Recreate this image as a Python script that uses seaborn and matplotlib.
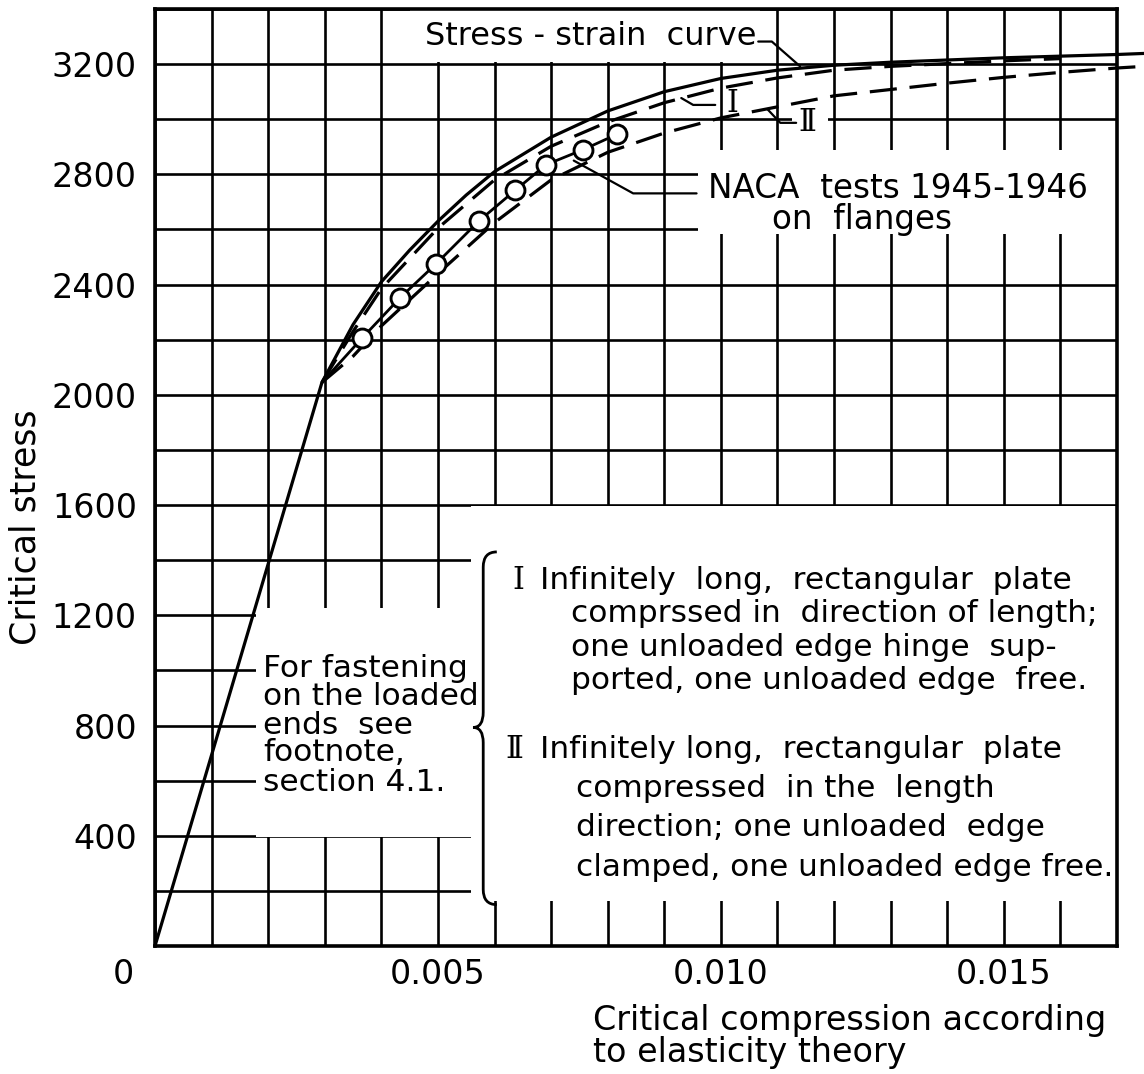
import matplotlib
matplotlib.use("Agg")
import matplotlib.pyplot as plt
from matplotlib.patches import Rectangle, PathPatch
from matplotlib.path import Path
from matplotlib.transforms import ScaledTranslation
import pandas as pd
import seaborn as sns

# Stress-strain curve: elastic line to the proportional limit, then the plastic branch
ss_strain = [0, 0.00295, 0.0035, 0.004, 0.0045, 0.005, 0.0055, 0.006, 0.007, 0.008,
             0.009, 0.010, 0.011, 0.012, 0.013, 0.014, 0.015, 0.016, 0.017, 0.0175]
ss_stress = [0, 2045, 2255, 2410, 2525, 2630, 2725, 2810, 2935, 3030,
             3100, 3148, 3178, 3196, 3207, 3215, 3223, 3229, 3235, 3239]

# Curve I: one unloaded edge hinge supported, one free
c1_strain = [0.00295, 0.0035, 0.004, 0.005, 0.006, 0.007, 0.008, 0.009, 0.010,
             0.011, 0.012, 0.013, 0.014, 0.015, 0.016]
c1_stress = [2045, 2230, 2385, 2605, 2780, 2902, 2990, 3060, 3113,
             3150, 3178, 3192, 3202, 3212, 3220]

# Curve II: one unloaded edge clamped, one free
c2_strain = [0.00295, 0.0035, 0.004, 0.005, 0.006, 0.007, 0.008, 0.009, 0.010,
             0.011, 0.012, 0.013, 0.014, 0.015, 0.016, 0.017, 0.0174]
c2_stress = [2045, 2140, 2250, 2440, 2625, 2780, 2880, 2950, 3005,
             3045, 3085, 3108, 3131, 3152, 3170, 3186, 3191]

# NACA tests 1945-1946 on flanges
test_strain = [0.00366, 0.00433, 0.00497, 0.00573, 0.00637, 0.00691, 0.00757, 0.00817]
test_stress = [2206, 2352, 2476, 2632, 2743, 2835, 2890, 2946]

x_ticks = [0, 0.005, 0.010, 0.015]
x_tick_labels = ["0", "0.005", "0.010", "0.015"]
y_ticks = [400, 800, 1200, 1600, 2000, 2400, 2800, 3200]
y_tick_labels = ["400", "800", "1200", "1600", "2000", "2400", "2800", "3200"]

sns.set_style("white")
plt.rcParams["font.family"] = ["DejaVu Sans"]

fig = plt.figure(figsize=(11.44, 10.74), dpi=100)
ax = fig.add_axes([0.1355, 0.1192, 0.8409, 0.8724])

ax.set_xlim(0, 0.017)
ax.set_ylim(0, 3400)
ax.set_xticks(x_ticks)
ax.set_xticklabels(x_tick_labels)
ax.set_xticks([i / 1000 for i in range(18)], minor=True)
ax.set_yticks(y_ticks)
ax.set_yticklabels(y_tick_labels)
ax.set_yticks(list(range(0, 3401, 200)), minor=True)
ax.tick_params(which="both", length=0, labelsize=24, colors="black")
ax.tick_params(axis="y", pad=13)
ax.tick_params(axis="x", pad=9)
ax.set_axisbelow(True)
ax.grid(which="both", color="black", linewidth=1.9)
for s in ax.spines.values():
    s.set_visible(True)
    s.set_color("black")
    s.set_linewidth(2.6)

# shift the origin label to the left of the corner
lbl0 = ax.get_xticklabels()[0]
lbl0.set_transform(lbl0.get_transform() + ScaledTranslation(-32 / 100, 0, fig.dpi_scale_trans))

# blank panels that carry the lettering
def blank(x0, x1, y0, y1):
    ax.add_patch(Rectangle((x0, y0), x1 - x0, y1 - y0, facecolor="white",
                           edgecolor="none", zorder=1))

blank(0.0045, 0.0107, 3206, 3400)      # stress-strain caption
blank(0.0096, 0.0170, 2585, 2890)      # NACA caption
blank(0.01125, 0.0119, 2950, 3030)     # label II
blank(0.00178, 0.0056, 395, 1225)      # fastening note
blank(0.00558, 0.0170, 165, 1597)      # case descriptions

# curves
df_ss = pd.DataFrame({"strain": ss_strain, "stress": ss_stress})
sns.lineplot(data=df_ss, x="strain", y="stress", ax=ax, color="black", linewidth=2.3,
             sort=False, estimator=None, clip_on=False, zorder=3)

df_1 = pd.DataFrame({"strain": c1_strain, "stress": c1_stress})
sns.lineplot(data=df_1, x="strain", y="stress", ax=ax, color="black", linewidth=2.3,
             sort=False, estimator=None, clip_on=False, zorder=3)
ax.lines[-1].set_dashes([8.5, 4])

df_2 = pd.DataFrame({"strain": c2_strain, "stress": c2_stress})
sns.lineplot(data=df_2, x="strain", y="stress", ax=ax, color="black", linewidth=2.3,
             sort=False, estimator=None, clip_on=False, zorder=3)
ax.lines[-1].set_dashes([8.5, 4])

# test points joined from the proportional limit
df_t = pd.DataFrame({"strain": [ss_strain[1]] + test_strain,
                     "stress": [ss_stress[1]] + test_stress})
sns.lineplot(data=df_t, x="strain", y="stress", ax=ax, color="black", linewidth=2.0,
             sort=False, estimator=None, zorder=3)
sns.scatterplot(x=test_strain, y=test_stress, ax=ax, s=185, facecolor="white",
                edgecolor="black", linewidth=2.1, zorder=4)

ax.set_xlabel("Critical compression according\nto elasticity theory", fontsize=24,
              ha="left", va="top", linespacing=0.95, color="black")
ax.xaxis.set_label_coords(0.455, -0.062)
ax.set_ylabel("Critical stress", fontsize=25, va="center", ha="center", color="black")
ax.yaxis.set_label_coords(-0.135, 0.447)

txt = dict(color="black", zorder=5)
roman = dict(color="black", zorder=5, family=["DejaVu Serif", "DejaVu Sans"])
lead = dict(color="black", linewidth=1.6, zorder=5, clip_on=False)

# stress-strain caption and leader
ax.text(0.00477, 3300, "Stress - strain  curve", fontsize=23, va="center", ha="left", **txt)
ax.plot([0.01066, 0.0109, 0.0114], [3282, 3282, 3192], **lead)

# curve labels
ax.text(0.0102, 3058, "\u2160", fontsize=22, va="center", ha="center", **roman)
ax.plot([0.0093, 0.00951, 0.0099], [3077, 3052, 3052], **lead)
ax.text(0.01152, 2987, "\u2161", fontsize=22, va="center", ha="center", **roman)
ax.plot([0.01082, 0.01105, 0.01133], [3037, 2987, 2987], **lead)

# NACA caption
ax.text(0.00977, 2747, "NACA  tests 1945-1946", fontsize=23.5, va="center", ha="left", **txt)
ax.text(0.0109, 2636, "on  flanges", fontsize=23.5, va="center", ha="left", **txt)
ax.plot([0.0074, 0.00845, 0.00957], [2850, 2731, 2731], **lead)

# fastening note
note_lines = ["For fastening", "on the loaded", "ends  see", "footnote,", "section 4.1."]
note_y = [1006, 905, 800, 702, 592]
for s, y in zip(note_lines, note_y):
    ax.text(0.00191, y, s, fontsize=22.5, va="center", ha="left", **txt)

# brace
def brace(x_tip, x_stem, x_end, y_bot, y_mid, y_top, ry):
    verts = [(x_end, y_top), (x_stem, y_top), (x_stem, y_top - ry),
             (x_stem, y_mid + ry), (x_stem, y_mid), (x_tip, y_mid),
             (x_stem, y_mid), (x_stem, y_mid - ry), (x_stem, y_bot + ry),
             (x_stem, y_bot), (x_end, y_bot)]
    codes = [Path.MOVETO, Path.CURVE3, Path.CURVE3, Path.LINETO, Path.CURVE3,
             Path.CURVE3, Path.CURVE3, Path.CURVE3, Path.LINETO, Path.CURVE3, Path.CURVE3]
    ax.add_patch(PathPatch(Path(verts, codes), fill=False, edgecolor="black",
                           linewidth=2.0, zorder=5))

brace(0.00562, 0.0058, 0.00604, 150, 793, 1430, 55)

# case descriptions, each headed by its roman numeral
ax.text(0.00642, 1325, "\u2160", fontsize=22, va="center", ha="center", **roman)
ax.text(0.00635, 712, "\u2161", fontsize=22, va="center", ha="center", **roman)
case_lines = [
    (0.00680, 1325, "Infinitely  long,  rectangular  plate"),
    (0.00735, 1205, "comprssed in  direction of length;"),
    (0.00735, 1082, "one unloaded edge hinge  sup-"),
    (0.00735, 963, "ported, one unloaded edge  free."),
    (0.00680, 712, "Infinitely long,  rectangular  plate"),
    (0.00744, 572, "compressed  in the  length"),
    (0.00744, 430, "direction; one unloaded  edge"),
    (0.00744, 284, "clamped, one unloaded edge free."),
]
for x, y, s in case_lines:
    ax.text(x, y, s, fontsize=22.5, va="center", ha="left", **txt)

fig.savefig("out.png", dpi=100, facecolor="white")
